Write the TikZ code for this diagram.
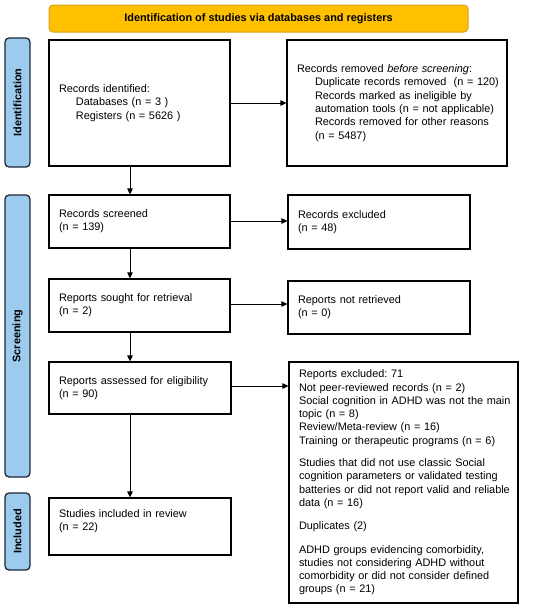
\documentclass[tikz,border=0pt]{standalone}
\usepackage{fontspec}
\setmainfont{Liberation Sans}
\usetikzlibrary{arrows.meta}
\definecolor{bannerfill}{HTML}{FFC000}
\definecolor{bannerdraw}{HTML}{D9A21B}
\definecolor{sidefill}{HTML}{9DCBEE}
\definecolor{sidedraw}{HTML}{1E2838}
\newcommand{\nl}[1]{\mbox{#1}}
\frenchspacing
\begin{document}
\begin{tikzpicture}[x=1pt,y=-1pt,
  every node/.style={font=\fontsize{10.9}{13.3}\selectfont\frenchspacing},
  box/.style={draw, line width=1.1pt, minimum width=#1, text width=#1-20pt, inner xsep=10pt, inner ysep=0pt, align=left, anchor=center},
  banner/.style={draw=bannerdraw, fill=bannerfill, line width=1pt, rounded corners=4pt, minimum width=419pt, minimum height=27pt, font=\fontsize{10.9}{13.3}\selectfont\bfseries},
  side/.style={draw=sidedraw, fill=sidefill, line width=1.3pt, rounded corners=4pt, minimum width=25pt, minimum height=#1, inner sep=0pt},
  sidetext/.style={rotate=90, font=\fontsize{10.9}{13.3}\selectfont\bfseries},
  arr/.style={line width=0.8pt, -{Triangle[length=6pt,width=5.5pt]}}
]
\useasboundingbox (0,0) rectangle (550,608);

\node[banner] (ban) at (258.5,18.5) {Identification of studies via databases and registers};

\node[side=129pt] (sid) at (17.5,102.5) {};
\node[sidetext] (sidt) at (sid.center) {Identification};
\node[side=282pt] (sscr) at (17.5,336) {};
\node[sidetext] (sscrt) at (sscr.center) {Screening};
\node[side=77pt] (sinc) at (17.5,531.5) {};
\node[sidetext] (sinct) at (sinc.center) {Included};

\node[box=181pt, minimum height=126pt] (ident) at (139.5,103) {Records identified:\\
\hspace*{17pt}Databases (n = 3 )\\
\hspace*{17pt}Registers (n = 5626 )};

\node[box=220pt, minimum height=126pt] (removed) at (397,103) {Records removed \textit{before screening}:\\
\hspace*{18pt}\nl{Duplicate records removed\ \ (n = 120)}\\
\hspace*{18pt}\nl{Records marked as ineligible by}\\
\hspace*{18pt}\nl{automation tools (n = not applicable)}\\
\hspace*{18pt}\nl{Records removed for other reasons}\\
\hspace*{18pt}(n = 5487)};

\node[box=181pt, minimum height=53pt] (screened) at (139.5,221.5) {Records screened\\(n = 139)};
\node[box=182pt, minimum height=54pt] (excluded) at (379,222) {Records excluded\\(n = 48)};

\node[box=181pt, minimum height=53pt] (sought) at (139.5,305.5) {Reports sought for retrieval\\(n = 2)};
\node[box=182pt, minimum height=53pt] (notret) at (379,307.5) {Reports not retrieved\\(n = 0)};

\node[box=182pt, minimum height=52pt] (assessed) at (140,388) {Reports assessed for eligibility\\(n = 90)};
\node[box=229pt, minimum height=241pt] (repexcl) at (403.5,482.5) {Reports excluded: 71\\
\nl{Not peer-reviewed records (n = 2)}\\
\nl{Social cognition in ADHD was not the main}\\
topic (n = 8)\\
\nl{Review/Meta-review (n = 16)}\\
\nl{Training or therapeutic programs (n = 6)}\\[9pt]
\nl{Studies that did not use classic Social}\\
\nl{cognition parameters or validated testing}\\
\nl{batteries or did not report valid and reliable}\\
data (n = 16)\\[10pt]
Duplicates (2)\\[10pt]
\nl{ADHD groups evidencing comorbidity,}\\
\nl{studies not considering ADHD without}\\
\nl{comorbidity or did not consider defined}\\
groups (n = 21)};

\node[box=182pt, minimum height=57pt] (included) at (140,526.5) {Studies included in review\\(n = 22)\\\mbox{}};

\draw[arr] (ident.east) -- (removed.west);
\draw[arr] ([yshift=0.5pt]screened.east) -- ([yshift=0.5pt]screened.east -| excluded.west);
\draw[arr] ([yshift=1.5pt]sought.east) -- ([yshift=1.5pt]sought.east -| notret.west);
\draw[arr] ([yshift=2pt]assessed.east) -- ([yshift=2pt]assessed.east -| repexcl.west);

\draw[arr] ([xshift=-9.5pt]ident.south) -- ([xshift=-9.5pt]screened.north);
\draw[arr] ([xshift=-9.5pt]screened.south) -- ([xshift=-9.5pt]sought.north);
\draw[arr] ([xshift=-9.5pt]sought.south) -- ([xshift=-9.5pt]sought.south |- assessed.north);
\draw[arr] ([xshift=-10pt]assessed.south) -- ([xshift=-10pt]included.north);
\end{tikzpicture}
\end{document}
